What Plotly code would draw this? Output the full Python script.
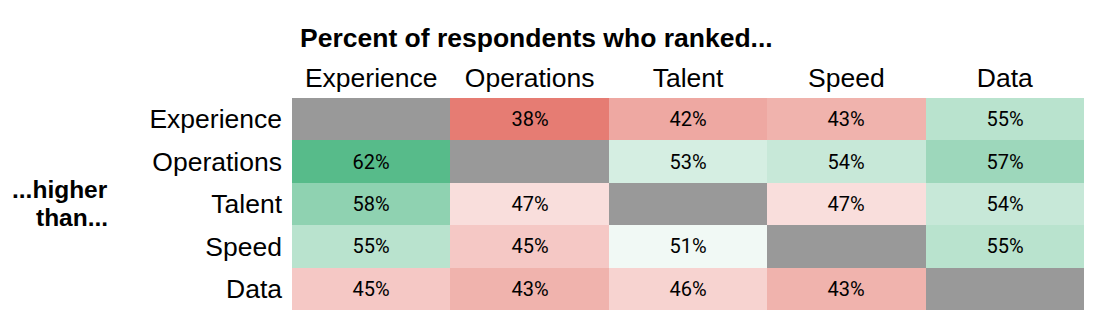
import plotly.graph_objects as go

categories = ["Experience", "Operations", "Talent", "Speed", "Data"]
row_experience = [None, 38, 42, 43, 55]
row_operations = [62, None, 53, 54, 57]
row_talent = [58, 47, None, 47, 54]
row_speed = [55, 45, 51, None, 55]
row_data = [45, 43, 46, 43, None]
values = [row_experience, row_operations, row_talent, row_speed, row_data]

title_text = "Percent of respondents who ranked..."
side_line1 = "...higher"
side_line2 = "than..."

text = [[("" if v is None else f"{v}%") for v in row] for row in values]
diag = [[(1 if i == j else None) for j in range(len(categories))] for i in range(len(categories))]

fig = go.Figure()
fig.add_trace(go.Heatmap(
    z=values, x=categories, y=categories,
    text=text, texttemplate="%{text}",
    textfont=dict(family="Roboto", size=20, color="#000000"),
    colorscale=[[0, "#E67C73"], [0.5, "#FFFFFF"], [1, "#57BB8A"]],
    zmin=38, zmax=62, showscale=False, hoverinfo="skip",
))
fig.add_trace(go.Heatmap(
    z=diag, x=categories, y=categories,
    colorscale=[[0, "#999999"], [1, "#999999"]],
    showscale=False, hoverinfo="skip",
))

fig.update_layout(
    width=1102, height=330,
    margin=dict(l=292, r=18, t=98, b=20),
    paper_bgcolor="white", plot_bgcolor="white",
    font=dict(family="Liberation Sans, Arial", color="#000000"),
    title=dict(text="<b>" + title_text + "</b>", x=300 / 1102, xanchor="left",
               y=1 - 38 / 330, yanchor="middle",
               font=dict(family="Liberation Sans, Arial", size=26.5, color="#000000")),
    xaxis=dict(side="top", showgrid=False, zeroline=False, ticks="", showline=False,
               tickfont=dict(size=26.5, color="#000000"), ticklabelstandoff=5),
    yaxis=dict(autorange="reversed", showgrid=False, zeroline=False, ticks="", showline=False,
               tickfont=dict(size=26.5, color="#000000"), ticklabelstandoff=9),
    annotations=[
        dict(text="<b>" + side_line1 + "</b>", xref="paper", yref="paper",
             x=(110 - 292) / 792, y=(310 - 189) / 212, xanchor="right", yanchor="middle",
             showarrow=False, font=dict(size=24.5, color="#000000")),
        dict(text="<b>" + side_line2 + "</b>", xref="paper", yref="paper",
             x=(110 - 292) / 792, y=(310 - 217) / 212, xanchor="right", yanchor="middle",
             showarrow=False, font=dict(size=24.5, color="#000000")),
    ],
)

fig.write_html("out.html")
